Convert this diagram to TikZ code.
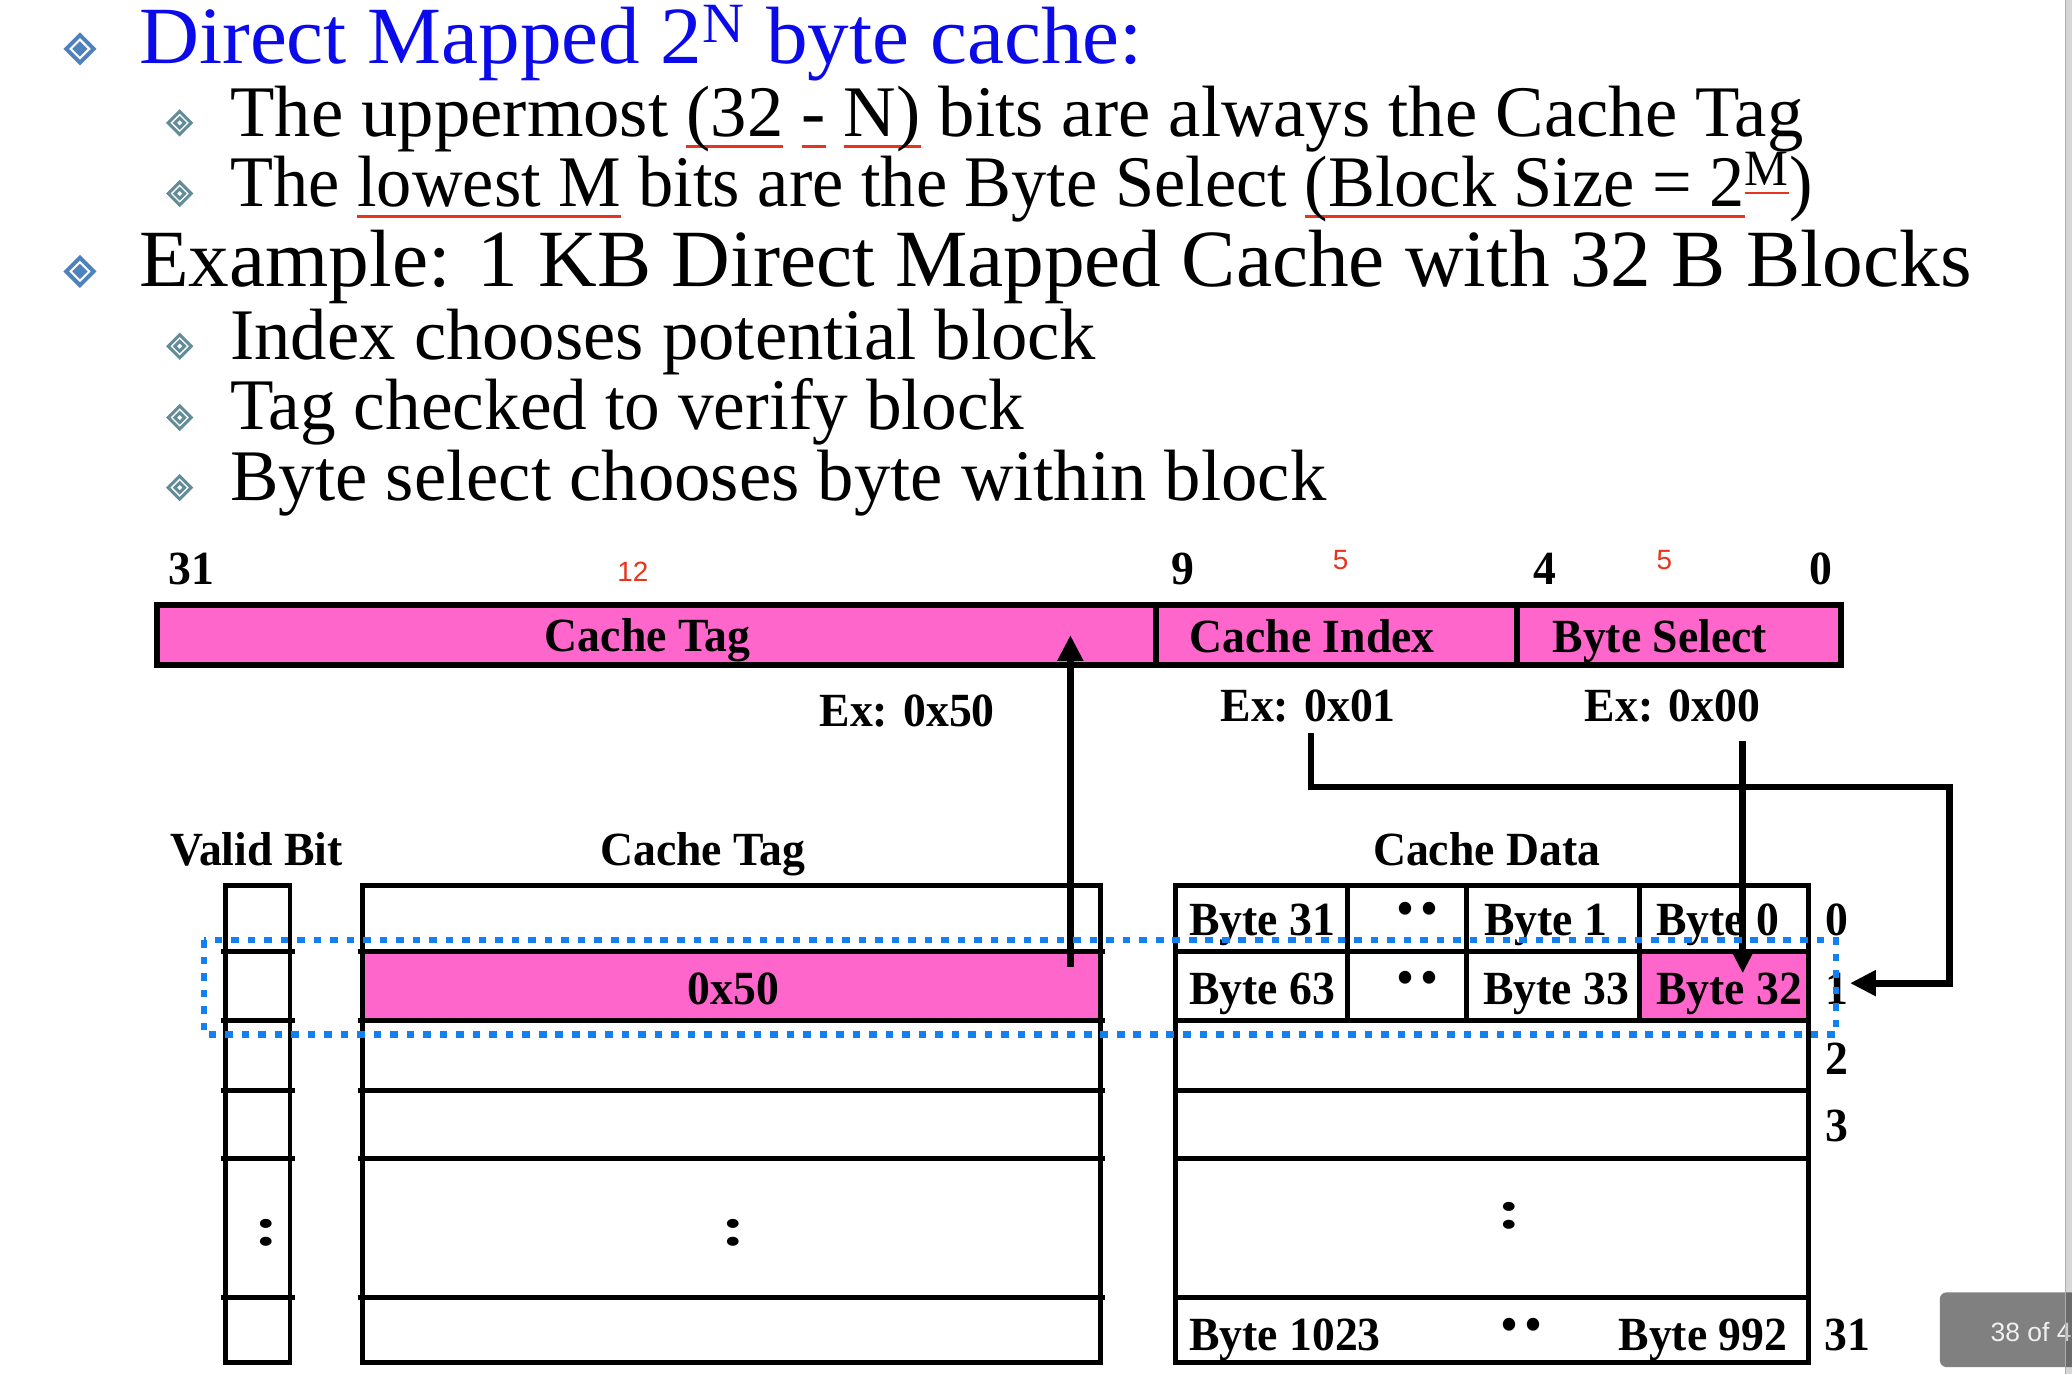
\documentclass[tikz,border=0pt]{standalone}
\usepackage{fontspec}
\setmainfont{Liberation Serif}
\newfontfamily\titlefont[FakeStretch=1.023]{Liberation Serif}
\newfontfamily\figfont[FakeStretch=0.96]{Liberation Serif}
\newfontfamily\numfont{Liberation Sans}
\usetikzlibrary{arrows.meta}

\definecolor{titleblue}{RGB}{10,10,235}
\definecolor{bulletblue}{RGB}{79,129,189}
\definecolor{bulletteal}{RGB}{98,140,152}
\definecolor{tagpink}{RGB}{255,102,204}
\definecolor{selblue}{RGB}{18,128,240}
\definecolor{markred}{RGB}{232,52,28}
\definecolor{badgegray}{RGB}{128,128,128}

\newcommand\lvlone{\fontsize{35pt}{42pt}\selectfont}
\newcommand\lvltwo{\fontsize{31.3pt}{38pt}\selectfont}
\newcommand\figtext{\figfont\bfseries\fontsize{20.5pt}{24pt}\selectfont}
\newcommand\bitwidth{\numfont\fontsize{12pt}{14pt}\selectfont}
\newcommand\colontext{\figfont\bfseries\fontsize{24pt}{28pt}\selectfont}

% red underline drawn under a piece of text
\newlength\ulwd
\newcommand\redul[1]{\settowidth{\ulwd}{#1}\rlap{\textcolor{markred}{\rule[-0.16em]{\ulwd}{0.045em}}}#1}

\begin{document}
\begin{tikzpicture}[x={(0.02cm,0)}, y={(0,-0.02cm)},
  txt/.style={inner sep=0},
  lbl/.style={inner sep=0, font=\figtext},
  vdotpair/.style={inner sep=0, font=\colontext},
  redno/.style={inner sep=0, font=\bitwidth, text=markred},
  bar/.style={draw=black, line width=2.6pt, fill=tagpink},
  tbl/.style={draw=black, line width=2.1pt},
  conn/.style={draw=black, line width=2.9pt},
  bigtip/.style={-{Triangle[length=0.39cm,width=0.37cm]}},
  smalltip/.style={-{Triangle[length=0.31cm,width=0.29cm]}},
  selbox/.style={draw=selblue, line width=2.8pt, dash pattern=on 0.115cm off 0.135cm},
  diamondA/.pic={
    \draw[bulletblue, line width=1.7pt] (0,-10.4) -- (10.4,0) -- (0,10.4) -- (-10.4,0) -- cycle;
    \fill[bulletblue] (0,-5.8) -- (5.8,0) -- (0,5.8) -- (-5.8,0) -- cycle;
  },
  diamondB/.pic={
    \draw[bulletteal, line width=1.3pt] (0,-8.7) -- (8.7,0) -- (0,8.7) -- (-8.7,0) -- cycle;
    \draw[bulletteal, line width=1.3pt] (0,-3.7) -- (3.7,0) -- (0,3.7) -- (-3.7,0) -- cycle;
  }]
\useasboundingbox (0,0) rectangle (1568,1040);
\clip (0,0) rectangle (1568,1040);
\fill[white] (0,0) rectangle (1568,1040);

% ---------- bullet list ----------
\pic (bA) at (60.5,37) {diamondA};
\node[txt, anchor=base west, font=\titlefont\lvlone, text=titleblue] (t1) at (105,48)
  {Direct Mapped 2\textsuperscript{N} byte cache:};
\pic (bB) at (136,93) {diamondB};
\node[txt, anchor=base west, font=\lvltwo] (t2) at (174,103.4)
  {The uppermost \redul{(32} \redul{-} \redul{N)} bits are always the Cache Tag};
\pic (bC) at (136,146.5) {diamondB};
\node[txt, anchor=base west, font=\lvltwo] (t3) at (174,156.4)
  {\scalebox{0.968}[1]{The \redul{lowest M} bits are the Byte Select \redul{(Block Size = 2}\textsuperscript{\redul{M}})}};
\pic (bD) at (60.5,205.4) {diamondA};
\node[txt, anchor=base west, font=\lvlone] (t4) at (105,217)
  {Example: 1 KB Direct Mapped Cache with 32 B Blocks};
\pic (bE) at (136,262) {diamondB};
\node[txt, anchor=base west, font=\lvltwo] (t5) at (174,271.7) {Index chooses potential block};
\pic (bF) at (136,316) {diamondB};
\node[txt, anchor=base west, font=\lvltwo] (t6) at (174,324.7) {\scalebox{0.98}[1]{Tag checked to verify block}};
\pic (bG) at (136,369) {diamondB};
\node[txt, anchor=base west, font=\lvltwo] (t7) at (174,378.4) {Byte select chooses byte within block};

% ---------- address fields ----------
\node[lbl, anchor=base] (n31) at (145,442) {31};
\node[redno, anchor=base] (w12) at (479,440) {12};
\node[lbl, anchor=base] (n9) at (895,442) {9};
\node[redno, anchor=base] (w5a) at (1014.5,431) {5};
\node[lbl, anchor=base] (n4) at (1169,442) {4};
\node[redno, anchor=base] (w5b) at (1259.5,431) {5};
\node[lbl, anchor=base] (n0) at (1378,442) {0};

\path[bar] (118.5,457.5) rectangle (1393.5,503.5);
\draw[line width=2.6pt] (875,457.5) -- (875,503.5) (1148,457.5) -- (1148,503.5);
\node[lbl, anchor=base] (ftag) at (490,493) {Cache Tag};
\node[lbl, anchor=base] (fidx) at (993,494) {Cache Index};
\node[lbl, anchor=base] (fsel) at (1256,494) {Byte Select};

\node[lbl, anchor=base] (extag) at (686.5,550) {Ex: 0x50};
\node[lbl, anchor=base] (exidx) at (990,546) {Ex: 0x01};
\node[lbl, anchor=base] (exsel) at (1265.5,546) {Ex: 0x00};

% ---------- cache arrays ----------
\node[lbl, anchor=base] (hvalid) at (194,655) {Valid Bit};
\node[lbl, anchor=base] (htag) at (532,655) {Cache Tag};
\node[lbl, anchor=base] (hdata) at (1125,655) {Cache Data};

\fill[tagpink] (274.6,720) rectangle (832.5,772);
\fill[tagpink] (1240.5,720) rectangle (1368.7,772);

% valid bits
\draw[tbl] (170.8,670) rectangle (219.5,1031);
\foreach \r in {720,772,825,877,982} \draw[tbl] (167,\r) -- (223,\r);
% tags
\draw[tbl] (274.6,670) rectangle (832.5,1031);
\foreach \r in {720,772,825,877,982} \draw[tbl] (270.6,\r) -- (836.5,\r);
% data blocks
\draw[tbl] (889.7,670) rectangle (1368.7,1031);
\foreach \r in {720,772,825,877,982} \draw[tbl] (889.7,\r) -- (1368.7,\r);
\foreach \c in {1020,1110,1240.5} \draw[tbl] (\c,670) -- (\c,772);

\node[lbl, anchor=base] (vtag) at (555,760) {0x50};
\node[lbl, anchor=base west] (b31) at (899.6,707.6) {Byte 31};
\node[lbl] (d0) at (1073,691.4) {•\,•};
\node[lbl, anchor=base west] (b1) at (1123,707.6) {Byte 1};
\node[lbl, anchor=base west] (b0) at (1253,707.6) {Byte 0};
\node[lbl, anchor=base west] (b63) at (899.6,759.8) {Byte 63};
\node[lbl] (d1) at (1073,743.6) {•\,•};
\node[lbl, anchor=base west] (b33) at (1122,759.8) {Byte 33};
\node[lbl, anchor=base west] (b32) at (1253,759.8) {Byte 32};
\node[lbl, anchor=base west] (b1023) at (899.6,1021.7) {Byte 1023};
\node[lbl] (d31) at (1151.5,1005.8) {•\,•};
\node[lbl, anchor=base east] (b992) at (1353,1021.7) {Byte 992};

\node[vdotpair] (vdots) at (202,933) {\scalebox{1.35}[1]{:}};
\node[vdotpair] (tdots) at (555,933) {\scalebox{1.35}[1]{:}};
\node[vdotpair] (ddots) at (1142,920) {\scalebox{1.35}[1]{:}};

\node[lbl, anchor=base] (i0) at (1390,707.6) {0};
\node[lbl, anchor=base] (i1) at (1390,759.8) {1};
\node[lbl, anchor=base] (i2) at (1390,813) {2};
\node[lbl, anchor=base] (i3) at (1390,864) {3};
\node[lbl, anchor=base] (i31) at (1398,1021.7) {31};

% ---------- connectors ----------
\coordinate (tagsrc) at (810,731.5);
\coordinate (tagdst) at (810,480.6);
\draw[conn, bigtip] (tagsrc) -- (tagdst);

\coordinate (idxsrc) at (992,555);
\coordinate (idxturn) at (1475.5,595.5);
\coordinate (idxdst) at (1400,744);
\draw[conn, bigtip] (idxsrc) |- (idxturn) |- (idxdst);

\coordinate (selsrc) at (1318.8,561);
\coordinate (seldst) at (1318.8,736.5);
\draw[conn, smalltip] (selsrc) -- (seldst);

% selected set
\draw[selbox] (154.4,711.5) rectangle (1389.5,783);

% ---------- viewer chrome ----------
\fill[badgegray, rounded corners=0.1cm] (1468,978) rectangle (1600,1034.5);
\node[txt, anchor=base west, font=\numfont\fontsize{11.4pt}{13pt}\selectfont, text=black!6] (page) at (1506,1015.3) {38 of 4};
\fill[black, opacity=0.16] (1563,0) rectangle (1568,1040);
\draw[black!32, line width=0.4pt] (1563.2,0) -- (1563.2,1040);
\end{tikzpicture}
\end{document}
